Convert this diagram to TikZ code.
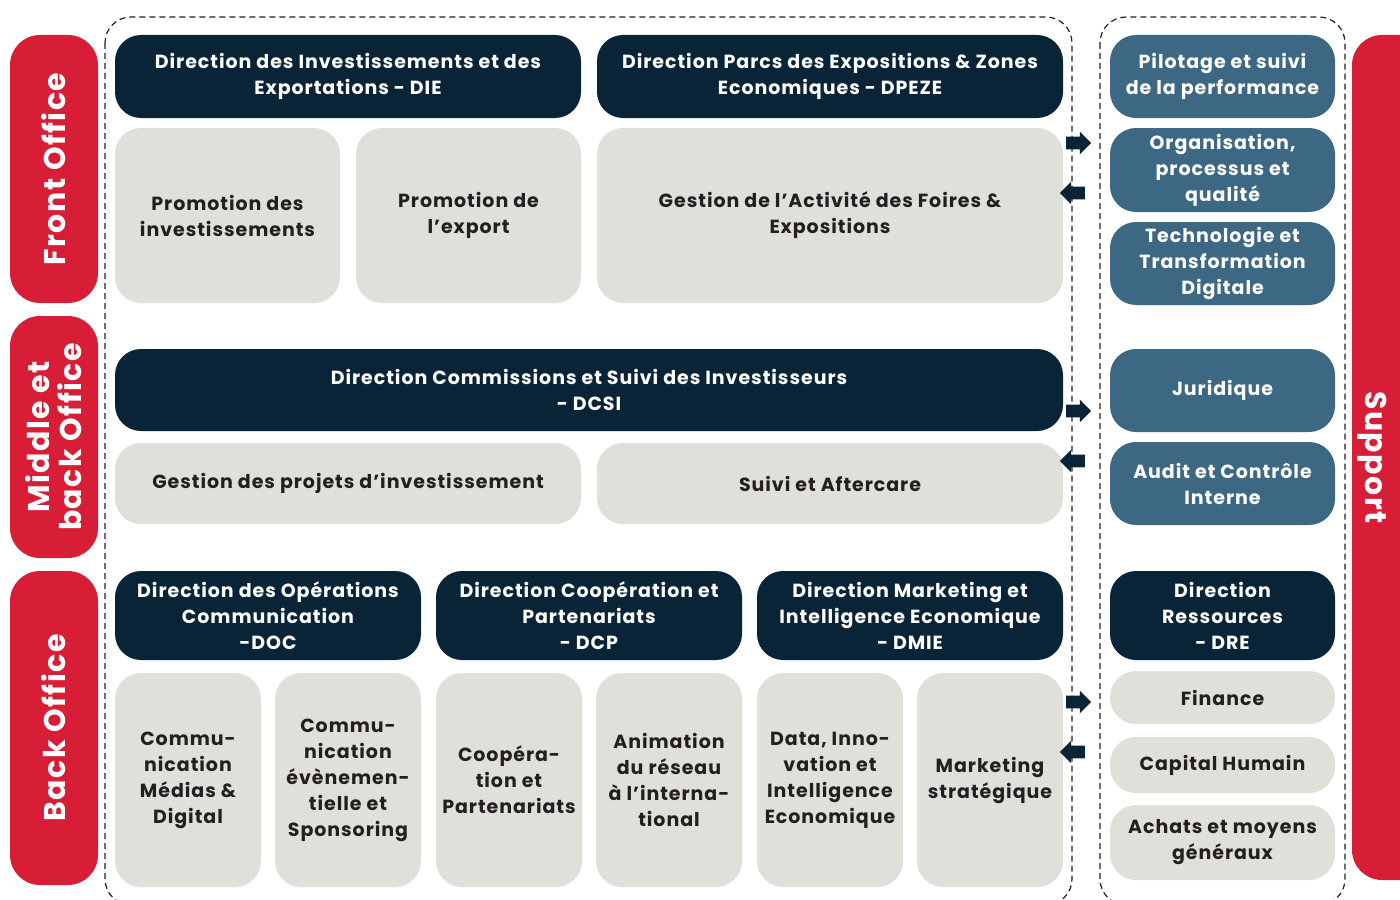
\documentclass[tikz,border=0pt]{standalone}
\usepackage{fontspec}
\setmainfont{Poppins}[LetterSpace=5]
\usetikzlibrary{shapes.arrows}
\definecolor{navy}{HTML}{0A2437}
\definecolor{steel}{HTML}{3D6883}
\definecolor{pale}{HTML}{E0E0DB}
\definecolor{crimson}{HTML}{D81E36}
\definecolor{ink}{HTML}{231F20}
\tikzset{
  base/.style={rounded corners=13pt, align=center, inner sep=0pt,
    font=\bfseries\fontsize{9.5}{13}\selectfont},
  navybox/.style={base, fill=navy, text=white},
  greybox/.style={base, fill=pale, text=ink},
  bluebox/.style={base, fill=steel, text=white},
  tab/.style={base, fill=crimson, text=white, rounded corners=15pt,
    font=\bfseries\fontsize{15}{16}\selectfont},
  tabtext/.style={text=white, inner sep=0pt, font=\bfseries\fontsize{15}{16}\selectfont},
  frame/.style={draw=ink, line width=0.6pt, dash pattern=on 3pt off 2pt, rounded corners=13pt},
  toright/.style={single arrow, fill=navy, inner xsep=0pt, inner ysep=3pt,
    minimum height=12.5pt, minimum width=11pt, single arrow head extend=2.5pt},
  toleft/.style={toright, shape border rotate=180}
}
\begin{document}
\begin{tikzpicture}[x=0.5pt,y=-0.5pt]
\useasboundingbox (0,0) rectangle (1400,899);
% dashed frames
\draw[frame] (105,17) rectangle (1072,905);
\draw[frame] (1100,17) rectangle (1345,905);
% red tabs
\node[tab, rotate=90, minimum width=134pt, minimum height=44pt] (front) at (54,169) {Front Office};
\node[tab, rotate=90, minimum width=121pt, minimum height=44pt] (middle) at (54,437) {Middle et\\back Office};
\node[tab, rotate=90, minimum width=157pt, minimum height=44pt] (back) at (54,728) {Back Office};
\node[tab, rotate=-90, minimum width=422.5pt, minimum height=44pt] (support) at (1396,457.5) {};
\node[tabtext, rotate=-90] (supporttxt) at (1372,457.5) {Support};
% front office
\node[navybox, minimum width=233pt, minimum height=41.5pt] (die) at (348,76.5) {Direction des Investissements et des\\Exportations - DIE};
\node[navybox, minimum width=233pt, minimum height=41.5pt] (dpeze) at (830,76.5) {Direction Parcs des Expositions \& Zones\\Economiques - DPEZE};
\node[greybox, minimum width=112.5pt, minimum height=87.5pt] (prominv) at (227.5,215.5) {Promotion des\\investissements};
\node[greybox, minimum width=112.5pt, minimum height=87.5pt] (promexp) at (468.5,215.5) {Promotion de\\l’export};
\node[greybox, minimum width=233pt, minimum height=87.5pt] (foires) at (830,215.5) {Gestion de l’Activité des Foires \&\\Expositions};
% middle office
\node[navybox, minimum width=474pt, minimum height=41pt] (dcsi) at (589,390) {Direction Commissions et Suivi des Investisseurs\\- DCSI};
\node[greybox, minimum width=233pt, minimum height=40.5pt] (projets) at (348,483.5) {Gestion des projets d’investissement};
\node[greybox, minimum width=233pt, minimum height=40.5pt] (suivi) at (830,483.5) {Suivi et Aftercare};
% back office
\node[navybox, minimum width=153pt, minimum height=44.5pt] (doc) at (268,615.5) {Direction des Opérations\\Communication\\-DOC};
\node[navybox, minimum width=153pt, minimum height=44.5pt] (dcp) at (589,615.5) {Direction Coopération et\\Partenariats\\- DCP};
\node[navybox, minimum width=153pt, minimum height=44.5pt] (dmie) at (910,615.5) {Direction Marketing et\\Intelligence Economique\\- DMIE};
\node[greybox, minimum width=73pt, minimum height=107pt] (medias) at (188,780) {Commu-\\nication\\Médias \&\\Digital};
\node[greybox, minimum width=73pt, minimum height=107pt] (event) at (348,780) {Commu-\\nication\\évènemen-\\tielle et\\Sponsoring};
\node[greybox, minimum width=73pt, minimum height=107pt] (coop) at (509,780) {Coopéra-\\tion et\\Partenariats};
\node[greybox, minimum width=73pt, minimum height=107pt] (reseau) at (669,780) {Animation\\du réseau\\à l’interna-\\tional};
\node[greybox, minimum width=73pt, minimum height=107pt] (data) at (830,780) {Data, Inno-\\vation et\\Intelligence\\Economique};
\node[greybox, minimum width=73pt, minimum height=107pt] (mkt) at (990,780) {Marketing\\stratégique};
% support
\node[bluebox, minimum width=112.5pt, minimum height=41.5pt] (pilotage) at (1222.5,76.5) {Pilotage et suivi\\de la performance};
\node[bluebox, minimum width=112.5pt, minimum height=42pt] (orga) at (1222.5,170) {Organisation,\\processus et\\qualité};
\node[bluebox, minimum width=112.5pt, minimum height=41.5pt] (techno) at (1222.5,263.5) {Technologie et\\Transformation\\Digitale};
\node[bluebox, minimum width=112.5pt, minimum height=41.5pt] (juridique) at (1222.5,390.5) {Juridique};
\node[bluebox, minimum width=112.5pt, minimum height=41.5pt] (audit) at (1222.5,483.5) {Audit et Contrôle\\Interne};
\node[navybox, minimum width=112.5pt, minimum height=44.5pt] (dre) at (1222.5,615.5) {Direction\\Ressources\\- DRE};
\node[greybox, minimum width=112.5pt, minimum height=26.5pt] (finance) at (1222.5,697.5) {Finance};
\node[greybox, minimum width=112.5pt, minimum height=28pt] (capital) at (1222.5,765) {Capital Humain};
\node[greybox, minimum width=112.5pt, minimum height=37.5pt] (achats) at (1222.5,842.5) {Achats et moyens\\généraux};
% arrows
\node[toright] (ar1) at (1075.5,143) {};
\node[toleft] (al1) at (1075.5,193) {};
\node[toright] (ar2) at (1075.5,411) {};
\node[toleft] (al2) at (1075.5,461) {};
\node[toright] (ar3) at (1075.5,702) {};
\node[toleft] (al3) at (1075.5,752) {};
\end{tikzpicture}
\end{document}
